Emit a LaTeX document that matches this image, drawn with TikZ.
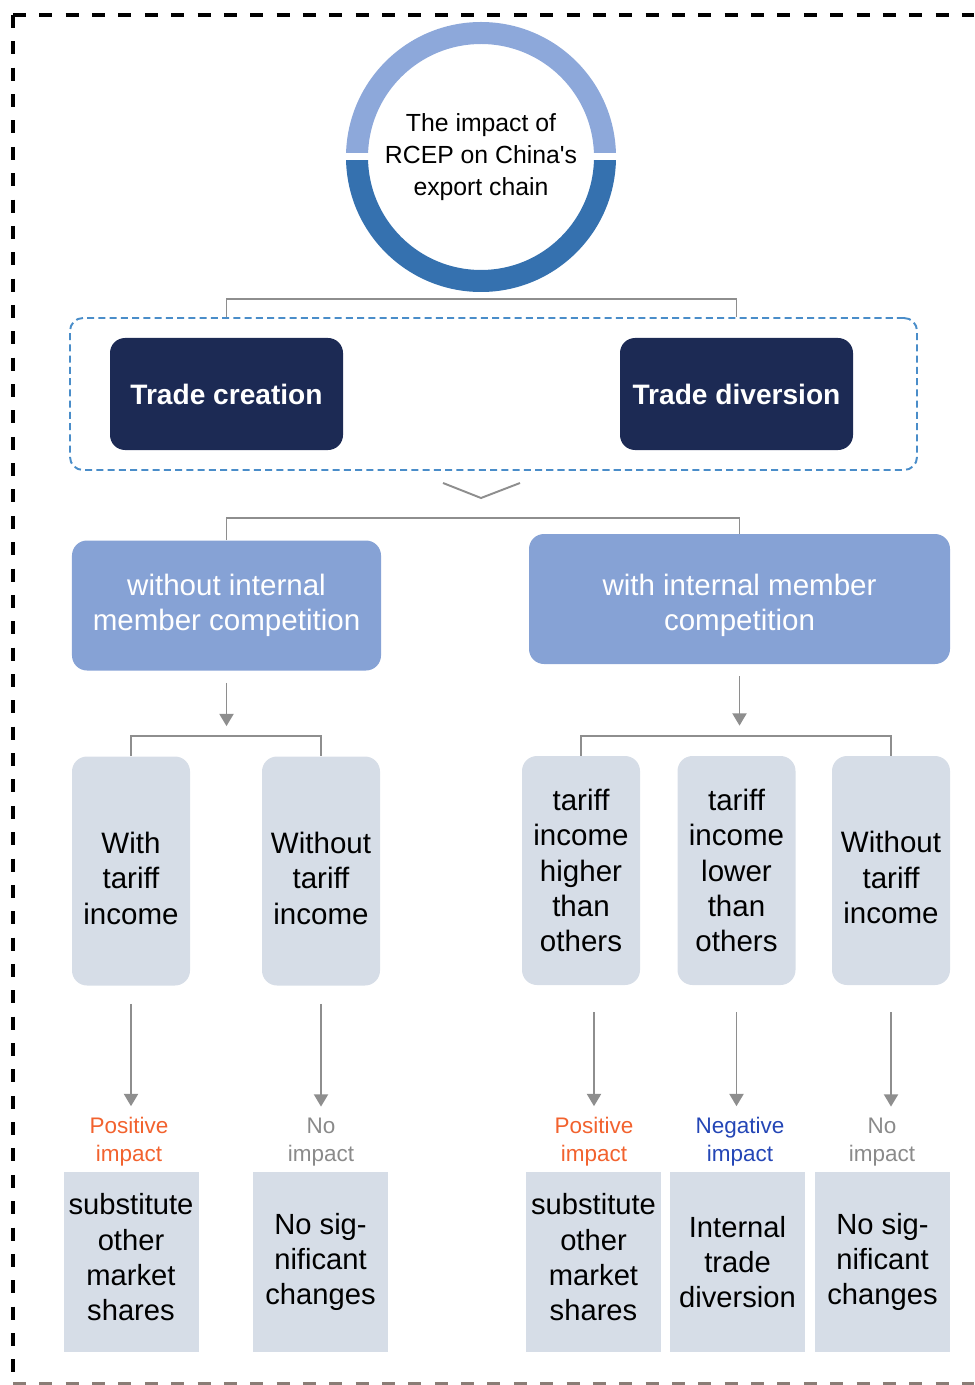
\documentclass[tikz,border=0pt]{standalone}
\usepackage{fontspec}
\setmainfont{Liberation Sans}
\usepackage{tikz}
\usetikzlibrary{arrows.meta}
\definecolor{ringlight}{HTML}{8DA8DA}
\definecolor{ringdark}{HTML}{3571AF}
\definecolor{navy}{HTML}{1C2A54}
\definecolor{midblue}{HTML}{86A2D5}
\definecolor{paleblue}{HTML}{D6DDE7}
\definecolor{dashblue}{HTML}{4A8DC9}
\definecolor{linegray}{HTML}{8E8E8E}
\definecolor{posorange}{HTML}{F2622E}
\definecolor{negblue}{HTML}{2446B6}
\definecolor{nogray}{HTML}{8A8A8A}
\definecolor{edgebrown}{HTML}{8A7D76}

\begin{document}
\begin{tikzpicture}[x = 0.2mm, y = -0.2mm, >={Triangle[width=8pt,length=7pt]},
  frame/.style = {line width = 2.8pt, dash pattern = on 7.4pt off 7.6pt},
  conn/.style = {linegray, line width = 1.1pt},
  arr/.style = {conn, ->},
  effectbox/.style = {fill = navy, text = white, rounded corners = 3mm, inner sep = 0,
    minimum width = 46.6mm, minimum height = 22.4mm, font = \fontsize{16}{19}\selectfont\bfseries},
  casebox/.style = {fill = midblue, text = white, rounded corners = 3mm, inner sep = 0,
    minimum height = 26mm, align = center, font = \fontsize{16.8}{20}\selectfont},
  tariffbox/.style = {fill = paleblue, rounded corners = 3mm, inner sep = 0,
    minimum width = 23.6mm, minimum height = 45.8mm, align = center, font = \fontsize{16.8}{20.1}\selectfont},
  resultbox/.style = {fill = paleblue, inner sep = 0, minimum width = 27mm, minimum height = 36mm,
    align = center, font = \fontsize{16.6}{20}\selectfont},
  impact/.style = {inner sep = 0, align = center, font = \fontsize{12.8}{15.9}\selectfont}]
\useasboundingbox (0,0) rectangle (974,1385);
\draw[frame] (13,15) -- (974,15);
\draw[frame] (13,15) -- (13,1384);
\draw[frame, edgebrown] (13,1384) -- (974,1384);

\node[inner sep = 0, align = center, font = \fontsize{14.1}{18.1}\selectfont] (root) at (481,157)
  {The impact of\\RCEP on China\textquotesingle s\\export chain};
\begin{scope}
\clip (root.center) ++(-140,-140) rectangle ++(280,136);
\fill[ringlight, even odd rule] (root.center) circle[radius = 135] circle[radius = 113];
\end{scope}
\begin{scope}
\clip (root.center) ++(-140,4) rectangle ++(280,136);
\fill[ringdark, even odd rule] (root.center) circle[radius = 135] circle[radius = 113];
\end{scope}

\node[draw = dashblue, line width = 1.1pt, dash pattern = on 4pt off 2.4pt, rounded corners = 2.6mm,
  minimum width = 169.4mm, minimum height = 30.4mm] (dbox) at (493.5,394) {};
\node[effectbox] (tc) at (226.5,394) {Trade creation};
\node[effectbox] (td) at (736.5,394) {Trade diversion};
\coordinate (forkT) at ([yshift = 3.6mm]dbox.north);
\draw[conn] (dbox.north -| tc) |- (forkT) -| (dbox.north -| td);
\draw[conn] (443,483) -- (481,498) -- (520,483);

\node[casebox, minimum width = 61.8mm] (midL) at (226.5,605.5) {without internal\\member competition};
\node[casebox, minimum width = 84.2mm, text height = 39.3pt] (midR) at (739.5,599) {with internal member\\competition};
\coordinate (forkM) at (481,518);
\draw[conn] (midL.north) |- (forkM) -| (midR.north);

\node[tariffbox, text height = 60.6pt] (boxA) at (131,871) {With\\tariff\\income};
\node[tariffbox, text height = 60.6pt] (boxB) at (321,871) {Without\\tariff\\income};
\node[tariffbox] (boxC) at (581,870.5) {tariff\\income\\higher\\than\\others};
\node[tariffbox] (boxD) at (736.5,870.5) {tariff\\income\\lower\\than\\others};
\node[tariffbox, text height = 60.6pt] (boxE) at (891,870.5) {Without\\tariff\\income};

\coordinate (forkL) at ([yshift = 4mm]boxA.north -| midL.south);
\coordinate (forkR) at ([yshift = 4mm]boxC.north -| midR.south);
\draw[arr, shorten <= 2.4mm, shorten >= 2mm] (midL.south) -- (forkL);
\draw[arr, shorten <= 2.4mm, shorten >= 2mm] (midR.south) -- (forkR);
\draw[conn] (boxA.north) |- (forkL) -| (boxB.north);
\draw[conn] (boxC.north) |- (forkR) -| (boxE.north);

\node[impact, text = posorange] (impA) at (129,1142) {Positive\\impact};
\node[impact, text = nogray] (impB) at (321,1142) {No\\impact};
\node[impact, text = posorange] (impC) at (594,1142) {Positive\\impact};
\node[impact, text = negblue] (impD) at (740,1142) {Negative\\impact};
\node[impact, text = nogray] (impE) at (882,1142) {No\\impact};

\draw[arr] (boxA.south) ++(0,18) -- ([yshift = 2.2mm]boxA.south |- impA.north);
\draw[arr] (boxB.south) ++(0,18) -- ([yshift = 2.2mm]boxB.south |- impB.north);
\draw[arr] (boxC.south -| impC) ++(0,27) -- ([yshift = 2.2mm]impC.north);
\draw[arr] (boxD.south) ++(0,27) -- ([yshift = 2.2mm]boxD.south |- impD.north);
\draw[arr] (boxE.south) ++(0,27) -- ([yshift = 2.2mm]boxE.south |- impE.north);

\node[resultbox, text depth = 5.6pt] (resA) at (131,1262) {substitute\\other\\market\\shares};
\node[resultbox] (resB) at (320.5,1262) {No sig-\\nificant\\changes};
\node[resultbox, text depth = 5.6pt] (resC) at (593.5,1262) {substitute\\other\\market\\shares};
\node[resultbox] (resD) at (737.5,1262) {Internal\\trade\\diversion};
\node[resultbox] (resE) at (882.5,1262) {No sig-\\nificant\\changes};
\end{tikzpicture}
\end{document}
